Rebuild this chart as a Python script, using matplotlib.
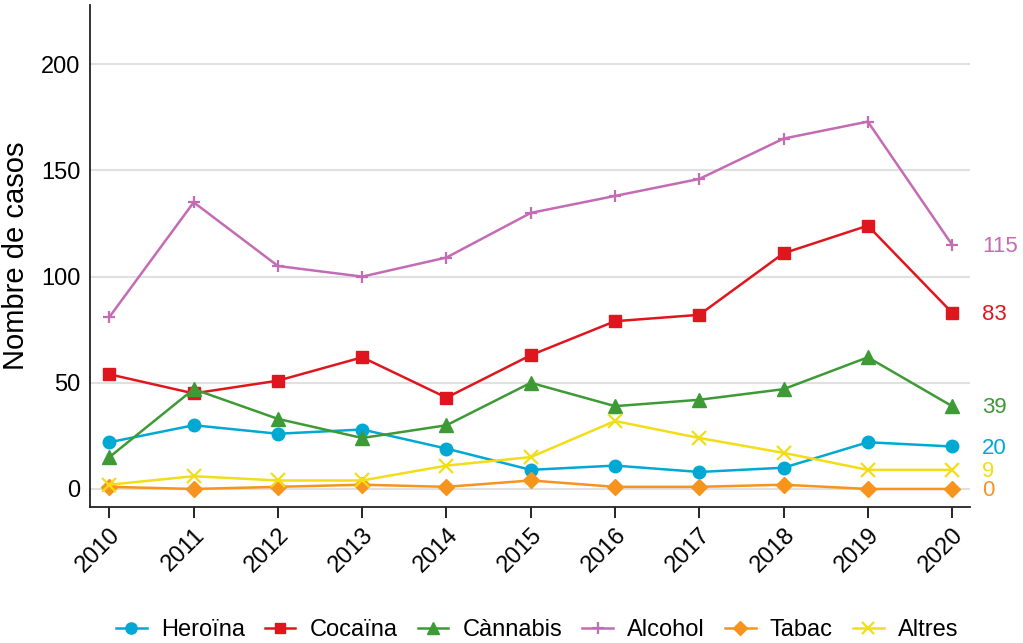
import matplotlib
matplotlib.use("Agg")
import matplotlib.pyplot as plt

plt.rcParams['font.family'] = ['Liberation Sans', 'DejaVu Sans']

years = list(range(2010, 2021))
heroina = [22, 30, 26, 28, 19, 9, 11, 8, 10, 22, 20]
cocaina = [54, 45, 51, 62, 43, 63, 79, 82, 111, 124, 83]
cannabis = [15, 47, 33, 24, 30, 50, 39, 42, 47, 62, 39]
alcohol = [81, 135, 105, 100, 109, 130, 138, 146, 165, 173, 115]
tabac = [1, 0, 1, 2, 1, 4, 1, 1, 2, 0, 0]
altres = [2, 6, 4, 4, 11, 15, 32, 24, 17, 9, 9]

series = [
    ("Heroïna", heroina, "#00A9D4", "o", 9),
    ("Cocaïna", cocaina, "#E0161F", "s", 8.5),
    ("Cànnabis", cannabis, "#3D9A35", "^", 9.5),
    ("Alcohol", alcohol, "#C46BB4", "+", 9),
    ("Tabac", tabac, "#F7941D", "D", 8),
    ("Altres", altres, "#F2DD16", "x", 10),
]

fig = plt.figure(figsize=(10.23, 6.43), dpi=100)
ax = fig.add_axes([0.088, 0.2115, 0.86, 0.781])

for name, vals, color, marker, ms in series:
    mew = 1.6 if marker in ("+", "x") else 1
    ax.plot(years, vals, color=color, marker=marker, markersize=ms,
            linewidth=1.8, markeredgewidth=mew, label=name, zorder=3)
    ax.annotate(str(vals[-1]), xy=(2020, vals[-1]), xytext=(21.5, -1.2),
                textcoords="offset points", color=color, fontsize=16,
                va="center", ha="left", annotation_clip=False)

ax.set_xlim(2009.77, 2020.21)
ax.set_ylim(-8.5, 228)
ax.set_yticks([0, 50, 100, 150, 200])
ax.set_xticks(years)
ax.set_xticklabels([str(y) for y in years], rotation=45, ha="right",
                   rotation_mode="anchor", fontsize=17)
ax.tick_params(axis="y", length=0, labelsize=17, pad=7)
ax.tick_params(axis="x", length=8, width=1.2, direction="out", pad=4)
ax.yaxis.grid(True, color="#E0E0E0", linewidth=1.5, zorder=0)
ax.set_axisbelow(True)
for s in ("top", "right"):
    ax.spines[s].set_visible(False)
for s in ("left", "bottom"):
    ax.spines[s].set_linewidth(1.3)
    ax.spines[s].set_color("#222222")
ax.set_ylabel("Nombre de casos", fontsize=21, labelpad=8)

fig.legend(loc="lower center", bbox_to_anchor=(0.525, -0.03), ncol=6,
           frameon=False, fontsize=17, handlelength=1.3, columnspacing=0.85,
           handletextpad=0.6, markerscale=0.9)

fig.savefig("out.png", dpi=100)
